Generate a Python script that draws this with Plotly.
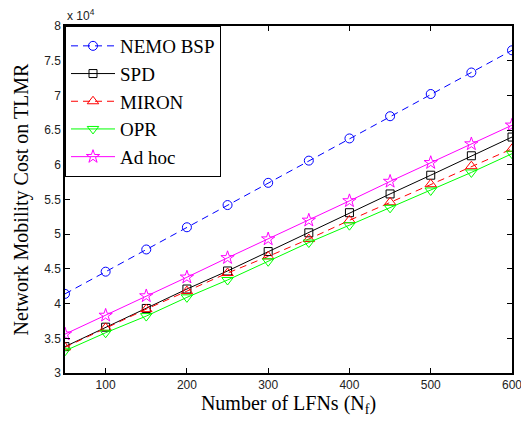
import plotly.graph_objects as go

x_lfn = [50, 100, 150, 200, 250, 300, 350, 400, 450, 500, 550, 600]
nemo_bsp = [41400, 44600, 47800, 51000, 54200, 57400, 60600, 63800, 67000, 70200, 73300, 76500]
spd = [33800, 36600, 39300, 42100, 44700, 47500, 50200, 53100, 55800, 58500, 61300, 64000]
miron = [33700, 36500, 39200, 41800, 44400, 46800, 49300, 52000, 54600, 57200, 59800, 62300]
opr = [33200, 35800, 38200, 40900, 43400, 46100, 48800, 51300, 53800, 56300, 58900, 61600]
ad_hoc = [35600, 38300, 41100, 43800, 46600, 49300, 52000, 54800, 57600, 60300, 63000, 65700]

x_ticks = [100, 200, 300, 400, 500, 600]
y_ticks = [30000, 35000, 40000, 45000, 50000, 55000, 60000, 65000, 70000, 75000, 80000]
y_tick_labels = ["3", "3.5", "4", "4.5", "5", "5.5", "6", "6.5", "7", "7.5", "8"]

series = [
    ("NEMO BSP", nemo_bsp, "#0000ff", "7px,5px", "circle-open", 9),
    ("SPD", spd, "#000000", "solid", "square-open", 8),
    ("MIRON", miron, "#ff0000", "7px,5px", "triangle-up-open", 10),
    ("OPR", opr, "#00ff00", "solid", "triangle-down-open", 10),
    ("Ad hoc", ad_hoc, "#ff00ff", "solid", "star-open", 10),
]

fig = go.Figure()
for name, vals, color, dash, sym, size in series:
    fig.add_trace(go.Scatter(
        x=x_lfn, y=vals, name=name, mode="lines+markers",
        line=dict(color=color, width=1, dash=dash),
        marker=dict(symbol=sym, size=size, color=color, line=dict(width=1, color=color)),
    ))

axis_common = dict(
    showline=True, linecolor="black", linewidth=1.5, mirror="ticks",
    ticks="inside", ticklen=5, tickcolor="black", showgrid=False, zeroline=False,
    automargin=False,
    tickfont=dict(family="Liberation Sans, Arial", size=12, color="#222"),
)

# page body has an 8px default margin; figure sized to fit the window
fig.update_layout(
    width=521, height=413,
    margin=dict(l=57, r=17, t=18, b=48),
    paper_bgcolor="white", plot_bgcolor="white",
    xaxis=dict(range=[50, 600], tickvals=x_ticks,
               title=dict(text="Number of LFNs (N<sub>f</sub>)", standoff=2,
                          font=dict(family="Liberation Serif, Times New Roman", size=20, color="black")),
               **axis_common),
    yaxis=dict(range=[30000, 80000], tickvals=y_ticks, ticktext=y_tick_labels,
               title=dict(text="Network Mobility Cost on TLMR", standoff=10,
                          font=dict(family="Liberation Serif, Times New Roman", size=20, color="black")),
               **axis_common),
    legend=dict(x=0, y=1, xanchor="left", yanchor="top", itemwidth=44,
                bgcolor="white", bordercolor="black", borderwidth=1,
                font=dict(family="Liberation Serif, Times New Roman", size=19, color="black")),
    showlegend=True,
)

fig.add_annotation(x=0, y=1, xref="paper", yref="paper", xanchor="left", yanchor="bottom",
                   text="x 10<sup>4</sup>", showarrow=False, yshift=1,
                   font=dict(family="Liberation Sans, Arial", size=12, color="#222"))

fig.write_html("out.html")
